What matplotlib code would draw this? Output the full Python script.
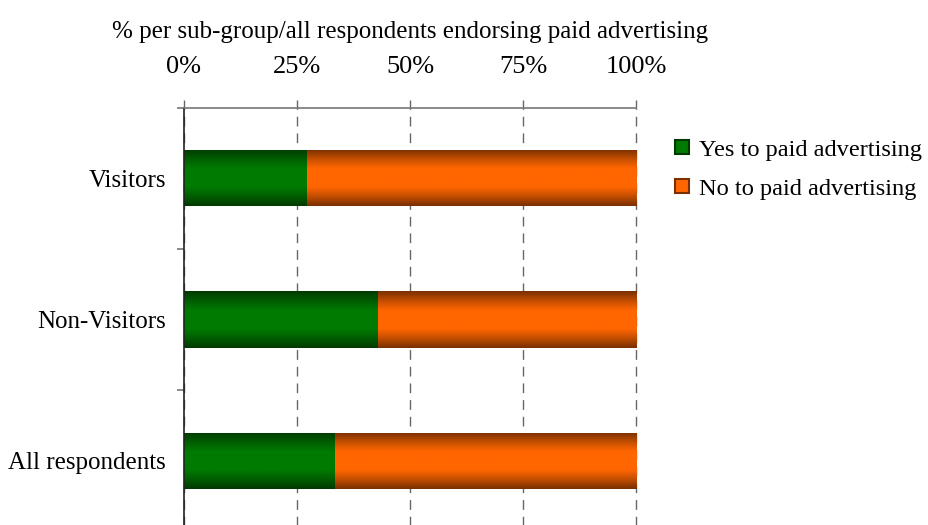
import numpy as np
import matplotlib
matplotlib.use("Agg")
import matplotlib.pyplot as plt
from matplotlib.patches import Patch
from matplotlib.colors import LinearSegmentedColormap

plt.rcParams['font.family'] = ['Liberation Serif', 'DejaVu Serif']

categories = ["Visitors", "Non-Visitors", "All respondents"]
yes_pct = [27.2, 42.9, 33.4]
no_pct = [100 - v for v in yes_pct]
series_labels = ["Yes to paid advertising", "No to paid advertising"]
tick_values = [0, 25, 50, 75, 100]
tick_labels = ["0%", "25%", "50%", "75%", "100%"]
axis_title = "% per sub-group/all respondents endorsing paid advertising"

green_mid, green_edge = "#007A00", "#003A00"
orange_mid, orange_edge = "#FF6600", "#7A3000"

W, H = 929, 525
fig = plt.figure(figsize=(W / 100, H / 100), dpi=100)
ax_left, ax_right, ax_top, ax_bottom = 184, 636, 107.5, 531.5
ax = fig.add_axes([ax_left / W, 1 - ax_bottom / H, (ax_right - ax_left) / W, (ax_bottom - ax_top) / H])

y = np.arange(len(categories))
bar_h = 0.4
yes_bars = ax.barh(y, yes_pct, height=bar_h, color="none", linewidth=0)
no_bars = ax.barh(y, no_pct, left=yes_pct, height=bar_h, color="none", linewidth=0)

# vertical shading profile: dark edges, bright centre
prof = np.abs(np.linspace(-1, 1, 64))
prof = np.clip((prof - 0.3) / 0.7, 0, 1) ** 1.2
grad = prof.reshape(-1, 1)


def shade(bars, mid, edge):
    cmap = LinearSegmentedColormap.from_list("s", [mid, edge])
    for p in bars.patches:
        x0, y0 = p.get_x(), p.get_y()
        w, h = p.get_width(), p.get_height()
        im = ax.imshow(grad, cmap=cmap, vmin=0, vmax=1, aspect="auto",
                       extent=[x0, x0 + w, y0 + h, y0], interpolation="bilinear",
                       zorder=2)
        im.set_clip_path(p)


shade(yes_bars, green_mid, green_edge)
shade(no_bars, orange_mid, orange_edge)

ax.set_xlim(0, 100)
ax.set_ylim(len(categories) - 0.5, -0.5)
ax.set_aspect("auto")

ax.xaxis.tick_top()
ax.set_xticks(tick_values)
ax.set_xticklabels(tick_labels, fontsize=19)
ax.tick_params(axis="x", direction="out", length=6, width=1, color="#666666", pad=15)
ax.set_xlabel(axis_title, fontsize=18, labelpad=13)
ax.xaxis.set_label_position("top")

ax.set_yticks(y)
ax.set_yticklabels(categories, fontsize=18)
ax.set_yticks(np.arange(len(categories) + 1) - 0.5, minor=True)
ax.tick_params(axis="y", which="major", length=0, pad=13)
ax.tick_params(axis="y", which="minor", direction="out", length=5, width=1.2, color="#777777")

ax.grid(axis="x", linestyle=(0, (7, 5)), color="#666666", linewidth=1)
ax.set_axisbelow(True)
for gl in ax.get_xgridlines():
    gl.set_clip_on(False)
for s in ["right", "bottom"]:
    ax.spines[s].set_visible(False)
ax.spines["top"].set_color("#777777")
ax.spines["top"].set_linewidth(1.2)
ax.spines["left"].set_color("#222222")
ax.spines["left"].set_linewidth(1.2)

handles = [Patch(facecolor=green_mid, edgecolor=green_edge, linewidth=1.5),
           Patch(facecolor=orange_mid, edgecolor=orange_edge, linewidth=1.5)]
fig.legend(handles, series_labels, loc="upper left", bbox_to_anchor=(653 / W, 1 - 118 / H),
           frameon=False, fontsize=17.6, handlelength=0.58, handleheight=0.5,
           handletextpad=0.4, labelspacing=0.72)

fig.savefig("out.png", dpi=100)
